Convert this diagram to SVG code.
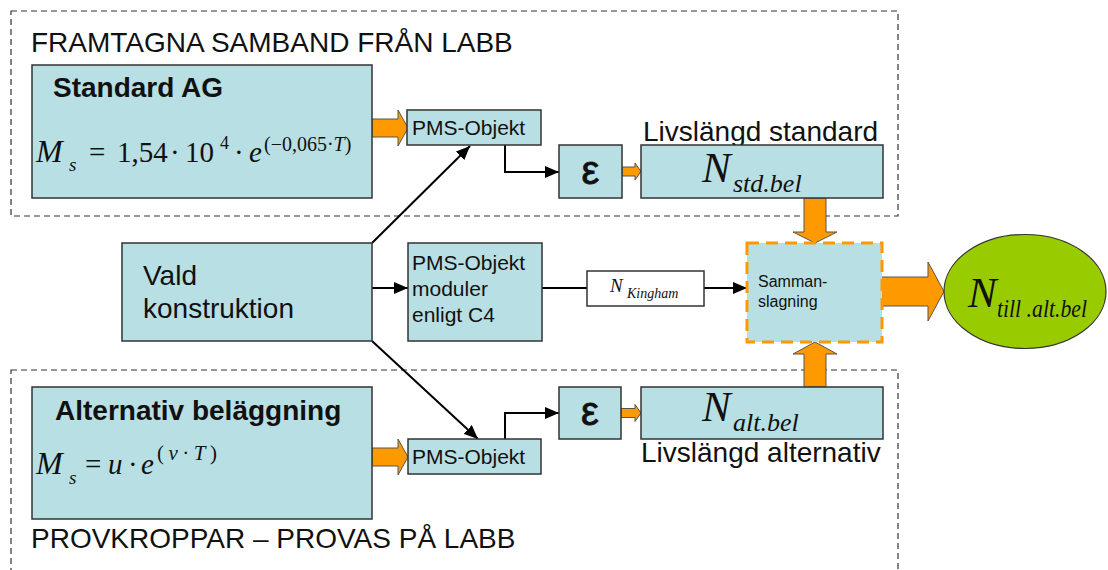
<svg xmlns="http://www.w3.org/2000/svg" width="1108" height="570" viewBox="0 0 1108 570">
  <style>
    .box { fill: #b8dfe3; stroke: #333; stroke-width: 1.5; }
    .orange { fill: #ff9900; stroke: #555; stroke-width: 1; }
    .conn { stroke: #000; stroke-width: 2; fill: none; }
    .region { fill: none; stroke: #333; stroke-width: 1.2; stroke-dasharray: 6 4; }
    .sans { font-family: "Liberation Sans", Arial, sans-serif; fill: #111; }
    .serif { font-family: "Liberation Serif", "Times New Roman", serif; fill: #111; }
    .it { font-style: italic; }
    .eps { font-family: "Liberation Sans", Arial, sans-serif; fill: #111; stroke: #111; stroke-width: 0.8; font-size: 40px; }
  </style>
  <defs>
    <marker id="ah" markerWidth="14" markerHeight="12" refX="14" refY="6" orient="auto" markerUnits="userSpaceOnUse">
      <path d="M0,0 L14,6 L0,12 z" fill="#000"/>
    </marker>
  </defs>
  <rect width="1108" height="570" fill="#fff"/>

  <g id="region-top">
    <rect class="region" x="11" y="11" width="887" height="205"/>
    <text class="sans" x="31" y="52" font-size="28">FRAMTAGNA SAMBAND FRÅN LABB</text>
  </g>
  <g id="region-bottom">
    <rect class="region" x="11" y="370" width="887" height="215"/>
    <text class="sans" x="31" y="548" font-size="28">PROVKROPPAR – PROVAS PÅ LABB</text>
  </g>

  <g id="connectors">
    <polygon class="orange" points="372,119 398,119 398,110 408,128 398,146 398,137 372,137"/>
    <polygon class="orange" points="372,448 398,448 398,439 408,457 398,475 398,466 372,466"/>
    <polygon class="orange" points="622,167 635,167 635,163 641,171.5 635,180 635,176 622,176"/>
    <polygon class="orange" points="621,408.5 635,408.5 635,404.5 641,413 635,421.5 635,417.5 621,417.5"/>
    <polygon class="orange" points="804,198 826,198 826,232 837,232 815,243 793,232 804,232"/>
    <polygon class="orange" points="804,387 826,387 826,354 837,354 815,342 793,354 804,354"/>
    <polygon class="orange" points="881,277 928,277 928,262 944,291.5 928,321 928,306 881,306"/>
    <polyline class="conn" points="505,145 505,172 559,172" marker-end="url(#ah)"/>
    <polyline class="conn" points="505,439 505,413 559,413" marker-end="url(#ah)"/>
    <line class="conn" x1="372" y1="243" x2="470" y2="146" marker-end="url(#ah)"/>
    <line class="conn" x1="372" y1="341" x2="478" y2="439" marker-end="url(#ah)"/>
    <line class="conn" x1="372" y1="288" x2="408" y2="288" marker-end="url(#ah)"/>
    <line class="conn" x1="542" y1="288" x2="587" y2="288"/>
    <line class="conn" x1="704" y1="288" x2="747" y2="288" marker-end="url(#ah)"/>
  </g>

  <g id="standard-ag">
    <rect class="box" x="32" y="65" width="340" height="133"/>
    <text class="sans" x="53" y="97" font-size="28" font-weight="bold">Standard AG</text>
    <text class="serif" font-size="29">
      <tspan class="it" x="36" y="162" font-size="32">M</tspan>
      <tspan class="it" x="69" y="171" font-size="19">s</tspan>
      <tspan x="89" y="162">=</tspan>
      <tspan x="117" y="162">1,54</tspan>
      <tspan x="170" y="162">·</tspan>
      <tspan x="185" y="162">10</tspan>
      <tspan x="220" y="149" font-size="18">4</tspan>
      <tspan x="234" y="162">·</tspan>
      <tspan class="it" x="249" y="162">e</tspan>
      <tspan x="264" y="151" font-size="20">(−0,065·<tspan class="it">T</tspan>)</tspan>
    </text>
  </g>

  <g id="pms-top">
    <rect class="box" x="407" y="110" width="134" height="35"/>
    <text class="sans" x="412" y="135" font-size="21">PMS-Objekt</text>
  </g>

  <g id="eps-top">
    <rect class="box" x="559" y="145" width="63" height="53"/>
    <text class="eps" x="590.5" y="184" text-anchor="middle">ε</text>
  </g>

  <g id="n-std">
    <text class="sans" x="643" y="141" font-size="28">Livslängd standard</text>
    <rect class="box" x="641" y="145" width="242" height="53"/>
    <text class="serif it" x="702" y="182" font-size="43">N</text>
    <text class="serif it" x="733" y="192" font-size="26">std.bel</text>
  </g>

  <g id="vald">
    <rect class="box" x="122" y="243" width="250" height="98"/>
    <text class="sans" x="143" y="285" font-size="28">Vald</text>
    <text class="sans" x="143" y="318" font-size="28">konstruktion</text>
  </g>

  <g id="pms-moduler">
    <rect class="box" x="408" y="243" width="134" height="98"/>
    <text class="sans" x="412" y="270" font-size="21">PMS-Objekt</text>
    <text class="sans" x="412" y="296" font-size="21">moduler</text>
    <text class="sans" x="412" y="322" font-size="21">enligt C4</text>
  </g>

  <g id="n-kingham">
    <rect x="587" y="271" width="117" height="35" fill="#fff" stroke="#333" stroke-width="1.5"/>
    <text class="serif it" x="610" y="292" font-size="19">N</text>
    <text class="serif it" x="627" y="298" font-size="14">Kingham</text>
  </g>

  <g id="sammanslagning">
    <rect x="747" y="243" width="135" height="99" fill="#b8dfe3" stroke="#ff9900" stroke-width="3" stroke-dasharray="12 7"/>
    <text class="sans" x="758" y="287" font-size="16">Samman-</text>
    <text class="sans" x="758" y="307" font-size="16">slagning</text>
  </g>

  <g id="n-till">
    <ellipse cx="1025" cy="291.5" rx="81" ry="57" fill="#99cc00" stroke="#333" stroke-width="1.2"/>
    <text class="serif it" x="968" y="307" font-size="43">N</text>
    <text class="serif it" x="997" y="317" font-size="25" textLength="90" lengthAdjust="spacingAndGlyphs">till .alt.bel</text>
  </g>

  <g id="alternativ">
    <rect class="box" x="32" y="387" width="340" height="132"/>
    <text class="sans" x="55" y="420" font-size="28" font-weight="bold">Alternativ beläggning</text>
    <text class="serif" font-size="29">
      <tspan class="it" x="36" y="474" font-size="32">M</tspan>
      <tspan class="it" x="69" y="484" font-size="19">s</tspan>
      <tspan x="85" y="474">=</tspan>
      <tspan class="it" x="108" y="474">u</tspan>
      <tspan x="128" y="474">·</tspan>
      <tspan class="it" x="141" y="474">e</tspan>
      <tspan x="157" y="460" font-size="21" textLength="60" lengthAdjust="spacing">(<tspan class="it">v</tspan>·<tspan class="it">T</tspan>)</tspan>
    </text>
  </g>

  <g id="pms-bottom">
    <rect class="box" x="408" y="439" width="133" height="35"/>
    <text class="sans" x="412" y="464" font-size="21">PMS-Objekt</text>
  </g>

  <g id="eps-bottom">
    <rect class="box" x="559" y="387" width="62" height="52"/>
    <text class="eps" x="590" y="425" text-anchor="middle">ε</text>
  </g>

  <g id="n-alt">
    <rect class="box" x="641" y="387" width="242" height="52"/>
    <text class="serif it" x="702" y="421" font-size="43">N</text>
    <text class="serif it" x="733" y="431" font-size="26">alt.bel</text>
    <text class="sans" x="641" y="462" font-size="28">Livslängd alternativ</text>
  </g>
</svg>
